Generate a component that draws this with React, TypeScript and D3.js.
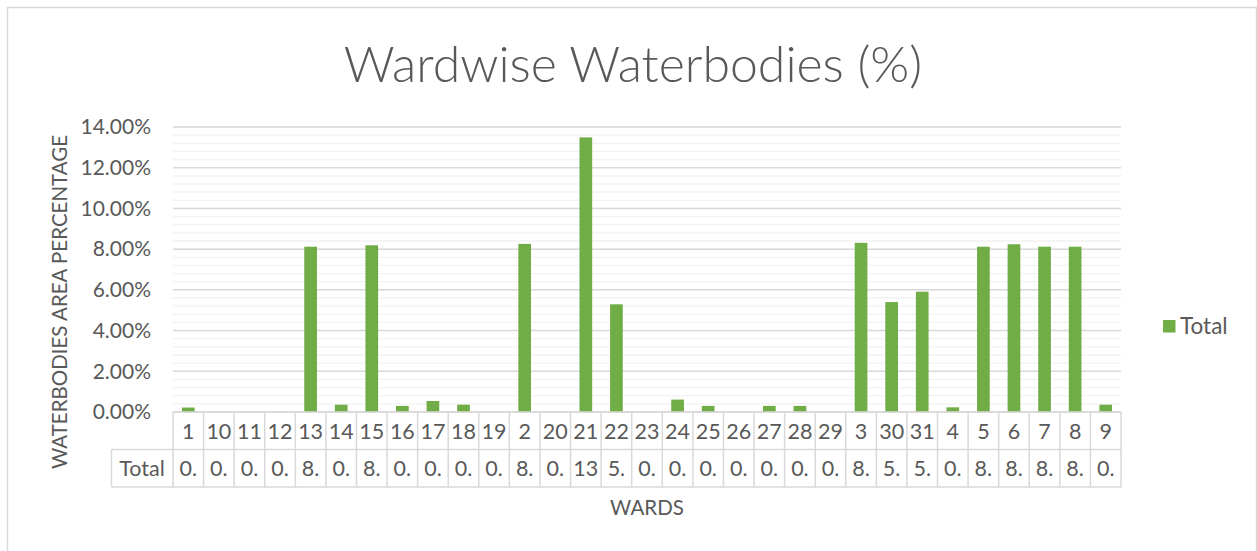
import React from "react";
import * as d3 from "d3";

const wards = ["1","10","11","12","13","14","15","16","17","18","19","2","20","21","22","23","24","25","26","27","28","29","3","30","31","4","5","6","7","8","9"];
const totals = [0.22,0,0,0,8.12,0.36,8.19,0.30,0.54,0.36,0,8.26,0,13.49,5.29,0,0.61,0.30,0,0.30,0.30,0,8.31,5.40,5.91,0.23,8.12,8.24,8.12,8.12,0.36];
const yTicks = [0,2,4,6,8,10,12,14];
const minorTicks = d3.range(0, 14.01, 0.4);
const seriesName = "Total";
const title = "Wardwise Waterbodies (%)";
const yTitle = "WATERBODIES AREA PERCENTAGE";
const xTitle = "WARDS";

const W = 1257, H = 551;
const plotL = 173, plotR = 1121, plotT = 127, plotB = 412;
const rowMid = 449.5, tableB = 487;
const FONT = "Lato, 'Open Sans', sans-serif";
const TXT = "#595959";
const GRID = "#d9d9d9";
const GREEN = "#70ad47";

export default function App() {
  const pad = 0.585;
  const x = d3.scaleBand<string>().domain(wards).range([plotL, plotR]).paddingInner(pad).paddingOuter(pad / 2);
  const y = d3.scaleLinear().domain([0, 14]).range([plotB, plotT]);
  const step = x.step();
  const colL = (w: string) => (x(w) as number) - (step * pad) / 2;

  return (
    <svg width={W} height={H} style={{ position: "absolute", left: 0, top: 0, display: "block" }} fontFamily={FONT}>
      <rect x={0} y={0} width={W} height={H} fill="#fff" />
      <rect x={7.5} y={7.5} width={1249} height={560} fill="none" stroke={GRID} strokeWidth={1.5} />
      <text x={633} y={82} textAnchor="middle" fontSize={50} fontWeight={300} fill={TXT}>{title}</text>

      {minorTicks.map((t, i) => (
        <line key={"m" + i} x1={plotL} x2={plotR} y1={y(t)} y2={y(t)} stroke="#f2f2f2" strokeWidth={1.3} />
      ))}
      {yTicks.map((t) => (
        <g key={t}>
          <line x1={plotL} x2={plotR} y1={y(t)} y2={y(t)} stroke={GRID} strokeWidth={1.5} />
          <text x={151} y={y(t)} dy="0.35em" textAnchor="end" fontSize={21} fill={TXT}>{t.toFixed(2) + "%"}</text>
        </g>
      ))}

      {wards.map((w, i) => (
        <rect key={w} x={x(w)} y={y(totals[i])} width={x.bandwidth()} height={plotB - y(totals[i])} fill={GREEN} />
      ))}

      {/* data table */}
      <g stroke={GRID} strokeWidth={1.5} fill="none">
        <line x1={plotL} x2={plotR} y1={plotB} y2={plotB} />
        <line x1={111.5} x2={plotR} y1={rowMid} y2={rowMid} />
        <line x1={111.5} x2={plotR} y1={tableB} y2={tableB} />
        <line x1={111.5} x2={111.5} y1={rowMid} y2={tableB} />
        {wards.map((w) => (
          <line key={w} x1={colL(w)} x2={colL(w)} y1={plotB} y2={tableB} />
        ))}
        <line x1={plotR} x2={plotR} y1={plotB} y2={tableB} />
      </g>
      {wards.map((w, i) => (
        <g key={"t" + w} fontSize={21.5} fill={TXT} textAnchor="middle">
          <text x={colL(w) + step / 2} y={431} dy="0.35em">{w}</text>
          <text x={colL(w) + step / 2} y={468} dy="0.35em">{(totals[i].toFixed(2) + "%").slice(0, 2)}</text>
        </g>
      ))}
      <text x={142} y={468} dy="0.35em" textAnchor="middle" fontSize={21.5} fill={TXT}>{seriesName}</text>

      <text x={647} y={508} dy="0.35em" textAnchor="middle" fontSize={20.5} fill={TXT}>{xTitle}</text>
      <text transform={`translate(60,302) rotate(-90)`} dy="0.35em" textAnchor="middle" fontSize={20.5} fill={TXT}>{yTitle}</text>

      <rect x={1163} y={320} width={12.5} height={12.5} fill={GREEN} />
      <text x={1180} y={326.5} dy="0.35em" fontSize={22.5} fill={TXT}>{seriesName}</text>
    </svg>
  );
}
